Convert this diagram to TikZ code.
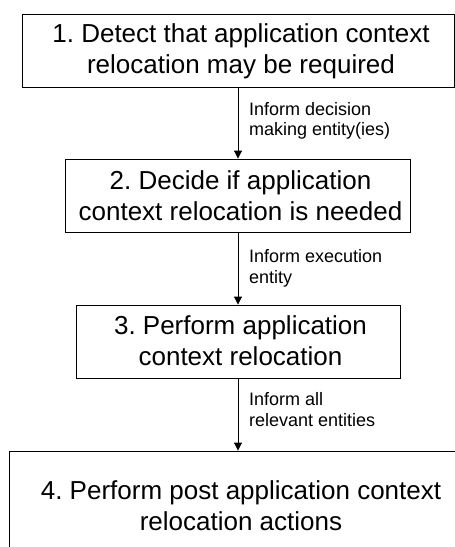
\documentclass[tikz,border=0pt]{standalone}
\usepackage{fontspec}
\setmainfont{Liberation Sans}
\usetikzlibrary{arrows.meta}
\frenchspacing
\tikzset{
  box/.style={draw=black, line width=0.9pt, inner sep=0pt},
  maintext/.style={font=\fontsize{26}{31}\selectfont, align=center, inner sep=0pt},
  labtext/.style={font=\fontsize{18}{20.5}\selectfont, align=left, inner sep=0pt, anchor=west},
  conn/.style={draw=black, line width=0.9pt, -{Triangle[length=8pt,width=8pt]}}
}
\begin{document}
\begin{tikzpicture}[x=1pt,y=-1pt]
\path[use as bounding box, clip] (0,0) rectangle (455,547);
\fill[white] (0,0) rectangle (455,547);
\coordinate (ax) at (238,0);
% boxes
\node[box, minimum width=432pt, minimum height=73pt] (b1) at (238,50.5) {};
\node[box, minimum width=345pt, minimum height=73pt] (b2) at (237.5,195.5) {};
\node[box, minimum width=324pt, minimum height=73pt] (b3) at (238,341.5) {};
\node[box, minimum width=464pt, minimum height=110pt] (b4) at (241,506) {};
% texts
\node[maintext] (t1) at (241,51) {1. Detect that application context\\relocation may be required};
\node[maintext] (t2) at (240.5,195.5) {2. Decide if application\\context relocation is needed};
\node[maintext] (t3) at (240.5,340.3) {3. Perform application\\context relocation};
\node[maintext] (t4) at (241,506) {4. Perform post application context\\relocation actions};
% connectors
\draw[conn] (b1.south -| ax) -- (b2.north -| ax);
\draw[conn] (b2.south -| ax) -- (b3.north -| ax);
\draw[conn] (b3.south -| ax) -- (b4.north -| ax);
% labels
\node[labtext] (l1) at (249,121) {Inform decision\\making entity(ies)};
\node[labtext] (l2) at (249,268.5) {Inform execution\\entity};
\node[labtext] (l3) at (249,409.7) {Inform all\\relevant entities};
\end{tikzpicture}
\end{document}
